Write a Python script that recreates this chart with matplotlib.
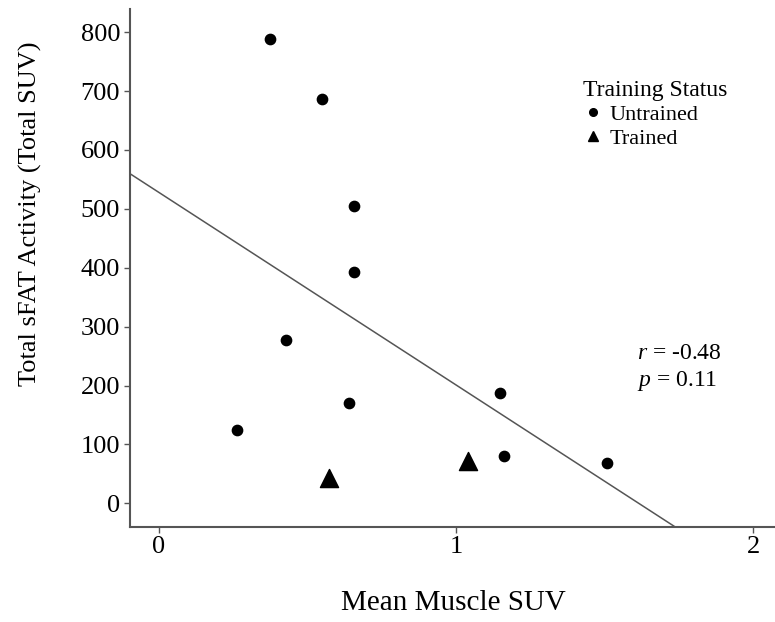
import matplotlib.pyplot as plt
from matplotlib.lines import Line2D
import numpy as np

# Data
untrained_x = [0.374, 0.548, 0.658, 0.657, 0.427, 0.639, 0.263, 1.147, 1.162, 1.507]
untrained_y = [788, 687, 505, 393, 277, 170, 125, 188, 80, 68]
trained_x = [0.572, 1.039]
trained_y = [43, 72]

x_ticks = [0, 1, 2]
y_ticks = [0, 100, 200, 300, 400, 500, 600, 700, 800]

plt.rcParams['font.family'] = ['Liberation Serif', 'DejaVu Serif']
plt.rcParams['mathtext.fontset'] = 'custom'
plt.rcParams['mathtext.rm'] = 'Liberation Serif'
plt.rcParams['mathtext.it'] = 'Liberation Serif:italic'

fig = plt.figure(figsize=(7.75, 6.22), dpi=100)
ax = fig.add_axes([0.1677, 0.1532, 0.8323, 0.8318])

# regression line across all points
all_x = np.array(untrained_x + trained_x)
all_y = np.array(untrained_y + trained_y)
slope, intercept = np.polyfit(all_x, all_y, 1)
xlim = (-0.0965, 2.073)
ylim = (-39.7, 838.7)
xs = np.array(xlim)
ax.plot(xs, intercept + slope * xs, color='#555555', linewidth=1.1, zorder=1)

ax.scatter(untrained_x, untrained_y, s=55, marker='o', color='black', zorder=3)
ax.scatter(trained_x, trained_y, s=170, marker='^', color='black', zorder=3)

ax.set_xlim(xlim)
ax.set_ylim(ylim)
ax.set_xticks(x_ticks)
ax.set_yticks(y_ticks)
ax.tick_params(labelsize=19, length=4, width=1, color='#555555', pad=3)

for s in ['top', 'right']:
    ax.spines[s].set_visible(False)
for s in ['left', 'bottom']:
    ax.spines[s].set_color('#555555')
    ax.spines[s].set_linewidth(1.5)

ax.set_xlabel('Mean Muscle SUV', fontsize=21)
ax.xaxis.set_label_coords(0.502, -0.122)
ax.set_ylabel('Total sFAT Activity (Total SUV)', fontsize=19)
ax.yaxis.set_label_coords(-0.137, 0.604)

handles = [
    Line2D([], [], marker='o', ls='', color='black', markersize=5.5),
    Line2D([], [], marker='^', ls='', color='black', markersize=6.5),
]
leg = ax.legend(handles, ['Untrained', 'Trained'], title='Training Status',
                loc='upper left', bbox_to_anchor=(0.685, 0.885),
                frameon=False, fontsize=16, title_fontsize=17, handletextpad=0.3,
                labelspacing=0.15, borderpad=0, handlelength=0.9)
leg._legend_box.align = 'left'

ax.text(0.786, 0.334, r'$r$ = -0.48', transform=ax.transAxes, fontsize=17,
        ha='left', va='center')
ax.text(0.786, 0.282, r'$p$ = 0.11', transform=ax.transAxes, fontsize=17,
        ha='left', va='center')

fig.savefig('out.png', dpi=100)
